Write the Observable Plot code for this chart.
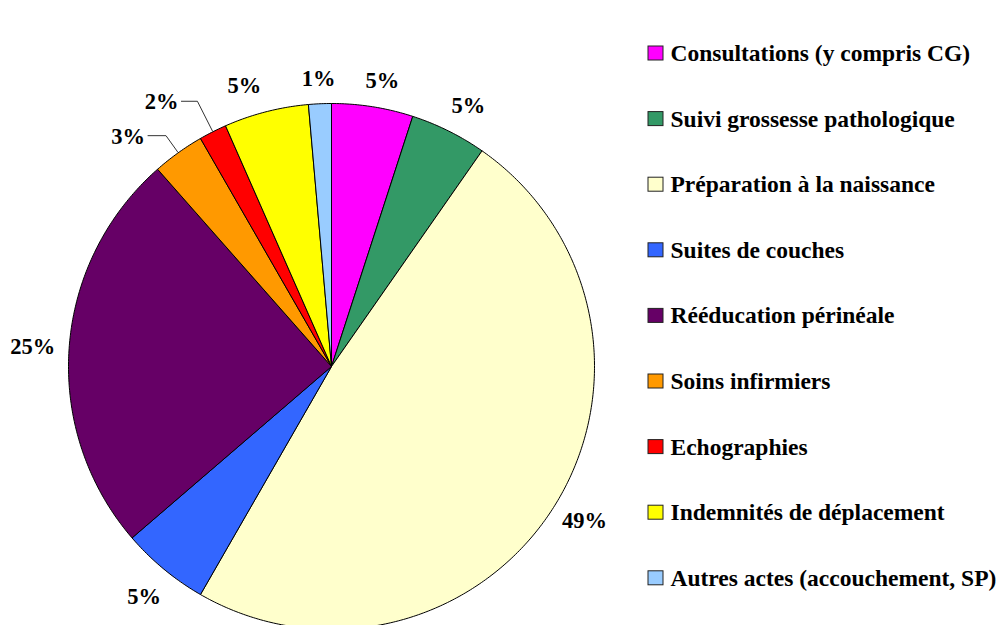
<!DOCTYPE html>
<html>
<head>
<meta charset="utf-8">
<script src="https://cdn.jsdelivr.net/npm/d3@7"></script>
<script src="https://cdn.jsdelivr.net/npm/@observablehq/plot@0.6"></script>
<style>
  html, body { margin: 0; padding: 0; background: #fff; }
  #chart { width: 999px; height: 625px; overflow: hidden; }
  #chart svg text { font-family: "Liberation Serif", "Times New Roman", Times, serif !important; font-weight: bold; }
</style>
</head>
<body>
<div id="chart"></div>
<script>
// ---- data ----
const categories = [
  "Consultations (y compris CG)",
  "Suivi grossesse pathologique",
  "Préparation à la naissance",
  "Suites de couches",
  "Rééducation périnéale",
  "Soins infirmiers",
  "Echographies",
  "Indemnités de déplacement",
  "Autres actes (accouchement, SP)"
];
const shares = [5.0, 4.7, 48.6, 5.4, 24.8, 3.2, 1.7, 5.2, 1.4];
const colors = ["#FF00FF", "#339966", "#FFFFCC", "#3366FF", "#660066", "#FF9900", "#FF0000", "#FFFF00", "#99CCFF"];

// ---- layout ----
const W = 999, H = 625;
const CX = 331, CY = 366, R = 263;
const FONT = "Liberation Serif";
const FS = 22.5;      // percentage labels
const FSL = 23.5;     // legend
const gap = 14;
// slices whose labels are pulled out with a leader line: [radial factor, horizontal length]
const leaders = {"Soins infirmiers": [1.08, 18], "Echographies": [1.13, 16]};
// small label nudges (px)
const nudge = {"Indemnités de déplacement": [-14, -2], "Suites de couches": [0, 8], "Suivi grossesse pathologique": [6, -3], "Consultations (y compris CG)": [5, -1]};
const legendX = 648, legendY0 = 53, legendStep = 65.6;

const total = d3.sum(shares);
const polar = (a, r) => [CX + r * Math.sin(a), CY - r * Math.cos(a)];

// slices
const slicePts = [];
const labels = [];
const leaderPts = [];
let cum = 0;
categories.forEach((c, i) => {
  const a0 = cum / total * 2 * Math.PI;
  cum += shares[i];
  const a1 = cum / total * 2 * Math.PI;
  const n = Math.max(2, Math.ceil((a1 - a0) / 0.01));
  slicePts.push({cat: c, x: CX, y: CY});
  for (let k = 0; k <= n; k++) {
    const [x, y] = polar(a0 + (a1 - a0) * k / n, R);
    slicePts.push({cat: c, x, y});
  }
  slicePts.push({cat: c, x: CX, y: CY});
  const mid = (a0 + a1) / 2;
  const text = Math.round(shares[i]) + "%";
  const w = FS * (0.5 * (text.length - 1) + 1.0);
  if (leaders[c]) {
    const [k, len] = leaders[c];
    const p0 = polar(mid, R + 1);
    const p1 = polar(mid, R * k);
    const p2 = [p1[0] - len, p1[1]];
    [p0, p1, p2].forEach(p => leaderPts.push({cat: c, x: p[0], y: p[1]}));
    labels.push({text, x: p2[0] - 3 - w / 2, y: p2[1] + 1});
  } else {
    const [ex, ey] = polar(mid, R + gap);
    const [nx, ny] = nudge[c] || [0, 0];
    labels.push({text, x: ex + Math.sin(mid) * w / 2 + nx, y: ey - Math.cos(mid) * 11 + ny});
  }
});

const legend = categories.map((c, i) => ({cat: c, y: legendY0 + i * legendStep}));

const chart = Plot.plot({
  width: W, height: H,
  margin: 0,
  x: {domain: [0, W], range: [0, W], axis: null},
  y: {domain: [0, H], range: [0, H], axis: null},
  color: {domain: categories, range: colors},
  style: {background: "#fff"},
  marks: [
    Plot.line(slicePts, {x: "x", y: "y", z: "cat", fill: "cat", stroke: "#000", strokeWidth: 1, strokeLinejoin: "round"}),
    Plot.line(leaderPts, {x: "x", y: "y", z: "cat", stroke: "#333", strokeWidth: 1}),
    Plot.text(labels, {x: "x", y: "y", text: "text", fontFamily: FONT, fontWeight: "bold", fontSize: FS, fill: "#000"}),
    Plot.rect(legend, {x1: legendX, x2: legendX + 15, y1: d => d.y - 7, y2: d => d.y + 7, fill: "cat", stroke: "#222", strokeWidth: 1}),
    Plot.text(legend, {x: legendX + 22, y: "y", text: "cat", textAnchor: "start", fontFamily: FONT, fontWeight: "bold", fontSize: FSL, fill: "#000"})
  ]
});
document.getElementById("chart").appendChild(chart);
</script>
</body>
</html>
